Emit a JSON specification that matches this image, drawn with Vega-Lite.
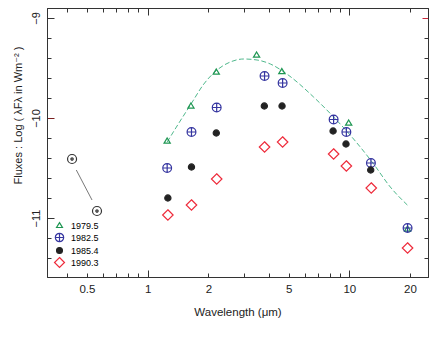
{
  "$schema": "https://vega.github.io/schema/vega-lite/v6.json",
  "autosize": "none",
  "width": 381,
  "height": 269,
  "padding": {"left": 47, "top": 8, "right": 8, "bottom": 76},
  "background": "white",
  "config": {
    "font": "Liberation Sans, DejaVu Sans, sans-serif",
    "view": {"stroke": "#333333", "strokeWidth": 1},
    "axis": {"grid": false, "domainColor": "#333333", "tickColor": "#333333", "labelColor": "#222222", "titleColor": "#222222", "titleFontWeight": "normal", "labelFontSize": 11.5, "titleFontSize": 11.5, "tickWidth": 1, "domainWidth": 1}
  },
  "datasets": {
    "points": [
      {"lam": 1.25, "flux": -10.23, "epoch": "1979.5"},
      {"lam": 1.64, "flux": -9.88, "epoch": "1979.5"},
      {"lam": 2.19, "flux": -9.54, "epoch": "1979.5"},
      {"lam": 3.47, "flux": -9.37, "epoch": "1979.5"},
      {"lam": 4.63, "flux": -9.535, "epoch": "1979.5"},
      {"lam": 9.93, "flux": -10.05, "epoch": "1979.5"},
      {"lam": 19.45, "flux": -11.11, "epoch": "1979.5"},
      {"lam": 1.25, "flux": -10.5, "epoch": "1982.5"},
      {"lam": 1.65, "flux": -10.14, "epoch": "1982.5"},
      {"lam": 2.2, "flux": -9.895, "epoch": "1982.5"},
      {"lam": 3.8, "flux": -9.58, "epoch": "1982.5"},
      {"lam": 4.67, "flux": -9.65, "epoch": "1982.5"},
      {"lam": 8.36, "flux": -10.015, "epoch": "1982.5"},
      {"lam": 9.67, "flux": -10.14, "epoch": "1982.5"},
      {"lam": 12.8, "flux": -10.45, "epoch": "1982.5"},
      {"lam": 19.45, "flux": -11.1, "epoch": "1982.5"},
      {"lam": 1.26, "flux": -10.8, "epoch": "1985.4"},
      {"lam": 1.65, "flux": -10.49, "epoch": "1985.4"},
      {"lam": 2.19, "flux": -10.15, "epoch": "1985.4"},
      {"lam": 3.79, "flux": -9.88, "epoch": "1985.4"},
      {"lam": 4.64, "flux": -9.88, "epoch": "1985.4"},
      {"lam": 8.31, "flux": -10.13, "epoch": "1985.4"},
      {"lam": 9.63, "flux": -10.26, "epoch": "1985.4"},
      {"lam": 12.77, "flux": -10.52, "epoch": "1985.4"},
      {"lam": 1.26, "flux": -10.97, "epoch": "1990.3"},
      {"lam": 1.65, "flux": -10.87, "epoch": "1990.3"},
      {"lam": 2.2, "flux": -10.61, "epoch": "1990.3"},
      {"lam": 3.8, "flux": -10.29, "epoch": "1990.3"},
      {"lam": 4.67, "flux": -10.24, "epoch": "1990.3"},
      {"lam": 8.36, "flux": -10.36, "epoch": "1990.3"},
      {"lam": 9.67, "flux": -10.48, "epoch": "1990.3"},
      {"lam": 12.85, "flux": -10.7, "epoch": "1990.3"},
      {"lam": 19.45, "flux": -11.3, "epoch": "1990.3"}
    ],
    "curve": [
      {"lam": 1.25, "flux": -10.24},
      {"lam": 1.45, "flux": -10.03},
      {"lam": 1.63, "flux": -9.87},
      {"lam": 1.9, "flux": -9.66},
      {"lam": 2.21, "flux": -9.52},
      {"lam": 2.57, "flux": -9.44},
      {"lam": 2.99, "flux": -9.41},
      {"lam": 3.49, "flux": -9.42},
      {"lam": 4.06, "flux": -9.46},
      {"lam": 4.9, "flux": -9.56},
      {"lam": 6.65, "flux": -9.79},
      {"lam": 8.36, "flux": -9.99},
      {"lam": 10.5, "flux": -10.21},
      {"lam": 13.2, "flux": -10.46},
      {"lam": 15.97, "flux": -10.69},
      {"lam": 19.4, "flux": -10.87}
    ],
    "early": [
      {"lam": 0.422, "flux": -10.41},
      {"lam": 0.561, "flux": -10.93}
    ],
    "connector": [
      {"lam": 0.443, "flux": -10.52},
      {"lam": 0.53, "flux": -10.82}
    ]
  },
  "layer": [
    {
      "data": {"name": "curve"},
      "mark": {"type": "point", "opacity": 0},
      "encoding": {
        "x": {"field": "lam", "type": "quantitative",
          "scale": {"type": "log", "domain": [0.317, 24.56], "nice": false},
          "axis": {"orient": "top", "values": [0.4, 0.5, 0.6, 0.7, 0.8, 0.9, 1, 2, 3, 4, 5, 6, 7, 8, 9, 10, 20], "labels": false, "title": null,
            "tickSize": {"condition": {"test": "datum.value == 1 || datum.value == 10", "value": -7}, "value": -4}}},
        "y": {"field": "flux", "type": "quantitative",
          "scale": {"domain": [-11.59, -8.9], "nice": false, "zero": false},
          "axis": {"orient": "right", "values": [-11.4, -11.2, -11, -10.8, -10.6, -10.4, -10.2, -10, -9.8, -9.6, -9.4, -9.2, -9], "labels": false, "title": null,
            "tickSize": {"condition": {"test": "datum.value == -9", "value": -6}, "value": -4},
            "tickColor": {"condition": {"test": "datum.value == -9", "value": "#c8283c"}, "value": "#333333"}}}
      }
    },
    {
      "data": {"name": "curve"},
      "mark": {"type": "line", "color": "#4fb88c", "strokeWidth": 1, "strokeDash": [5, 2.5], "interpolate": "monotone"},
      "encoding": {
        "x": {"field": "lam", "type": "quantitative", "scale": {"type": "log", "domain": [0.317, 24.56], "nice": false}, "axis": null},
        "y": {"field": "flux", "type": "quantitative", "scale": {"domain": [-11.59, -8.9], "nice": false, "zero": false}, "axis": null}
      }
    },
    {
      "data": {"name": "connector"},
      "mark": {"type": "line", "color": "#555555", "strokeWidth": 0.8},
      "encoding": {
        "x": {"field": "lam", "type": "quantitative", "scale": {"type": "log", "domain": [0.317, 24.56], "nice": false}, "axis": null},
        "y": {"field": "flux", "type": "quantitative", "scale": {"domain": [-11.59, -8.9], "nice": false, "zero": false}, "axis": null}
      }
    },
    {
      "data": {"name": "early"},
      "mark": {"type": "point", "filled": false, "color": "#333333", "strokeWidth": 1.2, "size": 81, "opacity": 1,
        "shape": "M-1,0A1,1,0,1,1,1,0A1,1,0,1,1,-1,0ZM-0.25,0A0.25,0.25,0,1,1,0.25,0A0.25,0.25,0,1,1,-0.25,0Z"},
      "encoding": {
        "x": {"field": "lam", "type": "quantitative", "scale": {"type": "log", "domain": [0.317, 24.56], "nice": false}, "axis": null},
        "y": {"field": "flux", "type": "quantitative", "scale": {"domain": [-11.59, -8.9], "nice": false, "zero": false}, "axis": null}
      }
    },
    {
      "data": {"name": "points"},
      "mark": {"type": "point", "filled": false, "strokeWidth": 1.2, "size": 100, "opacity": 1},
      "encoding": {
        "x": {"field": "lam", "type": "quantitative",
          "scale": {"type": "log", "domain": [0.317, 24.56], "nice": false},
          "axis": {"orient": "bottom", "values": [0.4, 0.5, 0.6, 0.7, 0.8, 0.9, 1, 2, 3, 4, 5, 6, 7, 8, 9, 10, 20],
            "format": "~g", "labelOverlap": false, "labelFlush": false,
            "labelExpr": "indexof([0.5, 1, 2, 5, 10, 20], datum.value) >= 0 ? datum.label : ''",
            "tickSize": {"condition": {"test": "datum.value == 1 || datum.value == 10", "value": -7}, "value": -4},
            "labelPadding": {"condition": {"test": "datum.value == 1 || datum.value == 10", "value": 13}, "value": 10},
            "title": "Wavelength  (μm)", "titlePadding": 12}},
        "y": {"field": "flux", "type": "quantitative",
          "scale": {"domain": [-11.59, -8.9], "nice": false, "zero": false},
          "axis": {"orient": "left", "values": [-11.4, -11.2, -11, -10.8, -10.6, -10.4, -10.2, -10, -9.8, -9.6, -9.4, -9.2, -9],
            "labelExpr": "datum.value == -9 ? '−9' : datum.value == -10 ? '−10' : datum.value == -11 ? '−11' : ''",
            "labelAngle": 270, "labelAlign": "center", "labelBaseline": "bottom", "labelPadding": 13, "labelOverlap": false, "labelFontSize": 11,
            "tickSize": {"condition": {"test": "datum.value == -9 || datum.value == -10 || datum.value == -11", "value": -7}, "value": -4},
            "tickColor": {"condition": {"test": "datum.value == -10", "value": "#7a1f1f"}, "value": "#333333"},
            "title": "Fluxes : Log ( λFλ in Wm⁻² )", "titlePadding": 4, "titleFontSize": 11, "titleY": 107}},
        "stroke": {"field": "epoch", "type": "nominal",
          "scale": {"domain": ["1979.5", "1982.5", "1985.4", "1990.3"], "range": ["#1e9652", "#3535a0", "#222222", "#ee2b3b"]},
          "legend": {"orient": "none", "legendX": 7, "legendY": 212, "title": null, "labelFontSize": 9, "labelOffset": 6, "rowPadding": -1, "symbolStrokeWidth": 1.2, "symbolSize": 90,
            "encode": {"labels": {"update": {"fill": {"scale": "stroke", "field": "value"}}}}}},
        "shape": {"field": "epoch", "type": "nominal",
          "scale": {"domain": ["1979.5", "1982.5", "1985.4", "1990.3"],
            "range": ["M0,-0.6L0.62,0.42L-0.62,0.42Z", "M-0.88,0A0.88,0.88,0,1,1,0.88,0A0.88,0.88,0,1,1,-0.88,0ZM-0.88,0L0.88,0M0,-0.88L0,0.88", "M-0.62,0A0.62,0.62,0,1,1,0.62,0A0.62,0.62,0,1,1,-0.62,0Z", "M0,-1.05L1.05,0L0,1.05L-1.05,0Z"]}},
        "fill": {"field": "epoch", "type": "nominal",
          "scale": {"domain": ["1979.5", "1982.5", "1985.4", "1990.3"], "range": ["transparent", "transparent", "#222222", "transparent"]}}
      }
    }
  ],
  "resolve": {"axis": {"x": "independent", "y": "independent"}}
}
